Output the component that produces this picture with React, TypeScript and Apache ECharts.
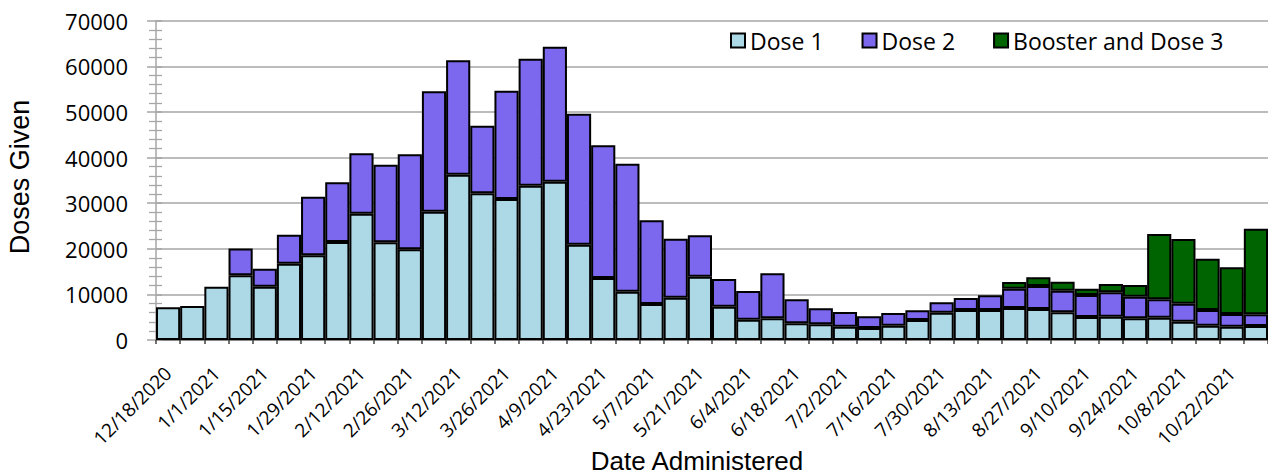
import React, { useEffect, useRef } from "react";
import * as echarts from "echarts";

const categories = [
  "12/18/2020", "12/25/2020", "1/1/2021", "1/8/2021", "1/15/2021", "1/22/2021",
  "1/29/2021", "2/5/2021", "2/12/2021", "2/19/2021", "2/26/2021", "3/5/2021",
  "3/12/2021", "3/19/2021", "3/26/2021", "4/2/2021", "4/9/2021", "4/16/2021",
  "4/23/2021", "4/30/2021", "5/7/2021", "5/14/2021", "5/21/2021", "5/28/2021",
  "6/4/2021", "6/11/2021", "6/18/2021", "6/25/2021", "7/2/2021", "7/9/2021",
  "7/16/2021", "7/23/2021", "7/30/2021", "8/6/2021", "8/13/2021", "8/20/2021",
  "8/27/2021", "9/3/2021", "9/10/2021", "9/17/2021", "9/24/2021", "10/1/2021",
  "10/8/2021", "10/15/2021", "10/22/2021", "10/29/2021",
];

const dose1 = [
  7200, 7450, 11700, 14180, 11690, 16730, 18570, 21490, 27700, 21420, 19880, 28140,
  36250, 32160, 30910, 33840, 34710, 20900, 13590, 10600, 7890, 9280, 13890, 7310,
  4460, 4750, 3650, 3430, 2920, 2630, 3140, 4380, 5990, 6580, 6580, 7020,
  6800, 6070, 5040, 5120, 4750, 4900, 4020, 3140, 2920, 3070,
];

const dose2 = [
  null, null, null, 5900, 3950, 6360, 12850, 13080, 13230, 17020, 20830, 26380,
  25070, 14830, 23760, 27840, 29600, 28720, 29090, 28060, 18340, 12940, 9060, 6060,
  6280, 9870, 5270, 3510, 3220, 2560, 2780, 2120, 2270, 2630, 3210, 4230,
  5040, 4750, 4830, 5330, 4750, 4020, 3950, 3440, 2780, 2560,
];

const booster = [
  null, null, null, null, null, null, null, null, null, null, null, null,
  null, null, null, null, null, null, null, null, null, null, null, null,
  null, null, null, null, null, null, null, null, null, null, null, 1470,
  1900, 1970, 1390, 1830, 2560, 14320, 14170, 11250, 10230, 18780,
];

const seriesNames = ["Dose 1", "Dose 2", "Booster and Dose 3"];
const seriesColors = ["#ADD8E6", "#7B68EE", "#006400"];
const yTitle = "Doses Given";
const xTitle = "Date Administered";

export default function App() {
  const ref = useRef<HTMLDivElement>(null);

  useEffect(() => {
    if (!ref.current) return;
    const chart = echarts.init(ref.current, undefined, { renderer: "svg" });
    const gridColor = "#a6a6a6";
    const dataSets = [dose1, dose2, booster];
    chart.setOption({
      animation: false,
      backgroundColor: "#ffffff",
      grid: { left: 156, right: 0, top: 20.7, bottom: 135, containLabel: false },
      legend: {
        data: seriesNames,
        left: 725,
        top: 24,
        itemWidth: 14,
        itemHeight: 14,
        itemGap: 38,
        icon: "rect",
        textStyle: { fontSize: 23, fontFamily: "Open Sans", color: "#000" },
      },
      xAxis: {
        type: "category",
        data: categories,
        boundaryGap: true,
        axisLine: { show: true, lineStyle: { color: "#898989", width: 2 } },
        axisTick: { show: true, interval: 0, length: 4, lineStyle: { color: "#404040", width: 1.5 } },
        axisLabel: {
          interval: 1,
          rotate: 45,
          fontSize: 19,
          fontFamily: "Open Sans",
          color: "#000",
          margin: 30,
        },
        splitLine: { show: false },
      },
      yAxis: [
        {
          type: "value",
          min: 0,
          max: 70000,
          interval: 10000,
          position: "left",
          axisLine: { show: true, lineStyle: { color: gridColor, width: 1.5 } },
          axisTick: { show: true, length: 9, lineStyle: { color: gridColor, width: 1.5 } },
          minorTick: { show: true, splitNumber: 5, length: 7, lineStyle: { color: gridColor, width: 1.3 } },
          splitLine: { show: true, lineStyle: { color: gridColor, width: 1.5 } },
          axisLabel: {
            fontSize: 22,
            fontFamily: "Open Sans",
            color: "#000",
            margin: 28,
            formatter: (v: number) => String(v),
          },
        },
        {
          type: "value",
          min: 0,
          max: 70000,
          interval: 10000,
          position: "left",
          axisLine: { show: false },
          axisTick: { show: true, inside: true, length: 6, lineStyle: { color: gridColor, width: 1.5 } },
          minorTick: { show: true, splitNumber: 5, length: 6, lineStyle: { color: gridColor, width: 1.3 } },
          splitLine: { show: false },
          axisLabel: { show: false },
        },
      ],
      series: seriesNames.map((name, i) => ({
        name,
        type: "bar",
        stack: "total",
        yAxisIndex: 0,
        barCategoryGap: "0%",
        barGap: "0%",
        data: dataSets[i],
        itemStyle: { color: seriesColors[i], borderColor: "#000", borderWidth: 2 },
        emphasis: { disabled: true },
      })),
      graphic: [
        {
          type: "text",
          x: 20,
          y: 177,
          rotation: Math.PI / 2,
          style: {
            text: yTitle,
            fontSize: 27,
            fontFamily: "Liberation Sans",
            fill: "#000",
            textAlign: "center",
            textVerticalAlign: "middle",
          },
        },
        {
          type: "text",
          x: 697,
          y: 474,
          style: {
            text: xTitle,
            fontSize: 26,
            fontFamily: "Liberation Sans",
            fill: "#000",
            textAlign: "center",
            textVerticalAlign: "bottom",
          },
        },
      ],
    });
    return () => chart.dispose();
  }, []);

  return (
    <div
      ref={ref}
      style={{ position: "fixed", left: 0, top: 0, width: 1268, height: 475 }}
    />
  );
}
